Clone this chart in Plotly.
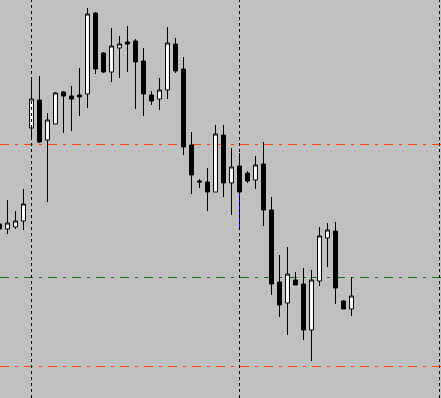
import plotly.graph_objects as go

# bar index
bars = list(range(45))
opens = [1.3176, 1.3171, 1.3173, 1.3179, 1.3272, 1.3300, 1.3260, 1.3276, 1.3308, 1.3304,
         1.3305, 1.3306, 1.3387, 1.3347, 1.3328, 1.3352, 1.3358, 1.3359, 1.3339, 1.3305,
         1.3301, 1.3310, 1.3356, 1.3331, 1.3255, 1.3219, 1.3218, 1.3208, 1.3265, 1.3217,
         1.3234, 1.3227, 1.3220, 1.3236, 1.3190, 1.3118, 1.3097, 1.3120, 1.3116, 1.3070,
         1.3119, 1.3162, 1.3169, 1.3099, 1.3091]
highs = [1.3178, 1.3200, 1.3189, 1.3211, 1.3320, 1.3324, 1.3287, 1.3308, 1.3309, 1.3314,
         1.3332, 1.3392, 1.3388, 1.3348, 1.3372, 1.3364, 1.3374, 1.3361, 1.3352, 1.3309,
         1.3322, 1.3373, 1.3362, 1.3343, 1.3268, 1.3221, 1.3232, 1.3275, 1.3275, 1.3252,
         1.3247, 1.3229, 1.3244, 1.3258, 1.3203, 1.3145, 1.3153, 1.3128, 1.3132, 1.3130,
         1.3173, 1.3177, 1.3178, 1.3100, 1.3123]
lows = [1.3168, 1.3166, 1.3171, 1.3170, 1.3262, 1.3257, 1.3198, 1.3276, 1.3267, 1.3269,
        1.3284, 1.3292, 1.3326, 1.3327, 1.3318, 1.3322, 1.3328, 1.3291, 1.3284, 1.3295,
        1.3290, 1.3301, 1.3327, 1.3245, 1.3206, 1.3212, 1.3189, 1.3208, 1.3203, 1.3185,
        1.3170, 1.3217, 1.3211, 1.3174, 1.3105, 1.3083, 1.3065, 1.3115, 1.3060, 1.3039,
        1.3114, 1.3133, 1.3096, 1.3091, 1.3084]
closes = [1.3171, 1.3177, 1.3179, 1.3196, 1.3301, 1.3258, 1.3280, 1.3307, 1.3304, 1.3301,
          1.3303, 1.3386, 1.3331, 1.3328, 1.3354, 1.3356, 1.3356, 1.3338, 1.3306, 1.3299,
          1.3310, 1.3357, 1.3329, 1.3253, 1.3225, 1.3218, 1.3208, 1.3266, 1.3217, 1.3233,
          1.3208, 1.3219, 1.3235, 1.3190, 1.3116, 1.3095, 1.3126, 1.3115, 1.3070, 1.3120,
          1.3164, 1.3170, 1.3112, 1.3091, 1.3104]

# period separators (bar indices) and horizontal levels
separators = [4, 30, 55]
red_levels = [1.32555, 1.30335]
green_levels = [1.31225]
highlight_bar = 30

fig = go.Figure()
fig.add_trace(go.Candlestick(
    x=bars, open=opens, high=highs, low=lows, close=closes,
    increasing=dict(fillcolor="white", line=dict(color="black", width=1)),
    decreasing=dict(fillcolor="black", line=dict(color="black", width=1)),
    whiskerwidth=0, showlegend=False, hoverinfo="skip",
))
hb = highlight_bar
fig.add_trace(go.Scatter(
    x=[hb, hb], y=[min(opens[hb], closes[hb]), lows[hb]], mode="lines",
    line=dict(color="#0000ff", width=1), showlegend=False, hoverinfo="skip",
))

for s in separators:
    fig.add_shape(type="line", xref="x", yref="paper", x0=s, x1=s, y0=0, y1=1,
                  line=dict(color="black", width=1, dash="3px,3px"))
for lv in red_levels:
    fig.add_shape(type="line", xref="paper", yref="y", x0=0, x1=1, y0=lv, y1=lv,
                  line=dict(color="#ff4500", width=1, dash="9px,6px,3px,6px"), layer="below")
for lv in green_levels:
    fig.add_shape(type="line", xref="paper", yref="y", x0=0, x1=1, y0=lv, y1=lv,
                  line=dict(color="#117711", width=1, dash="9px,6px,3px,6px"), layer="below")

fig.update_layout(
    width=441, height=398, margin=dict(l=0, r=0, t=0, b=0),
    paper_bgcolor="#c0c0c0", plot_bgcolor="#c0c0c0",
    showlegend=False, boxgap=0.3,
    xaxis=dict(range=[0.0625, 55.1875], visible=False, rangeslider=dict(visible=False),
               fixedrange=True),
    yaxis=dict(range=[1.3002, 1.3400], visible=False, fixedrange=True),
)
fig.write_html("out.html", config={"displayModeBar": False})
